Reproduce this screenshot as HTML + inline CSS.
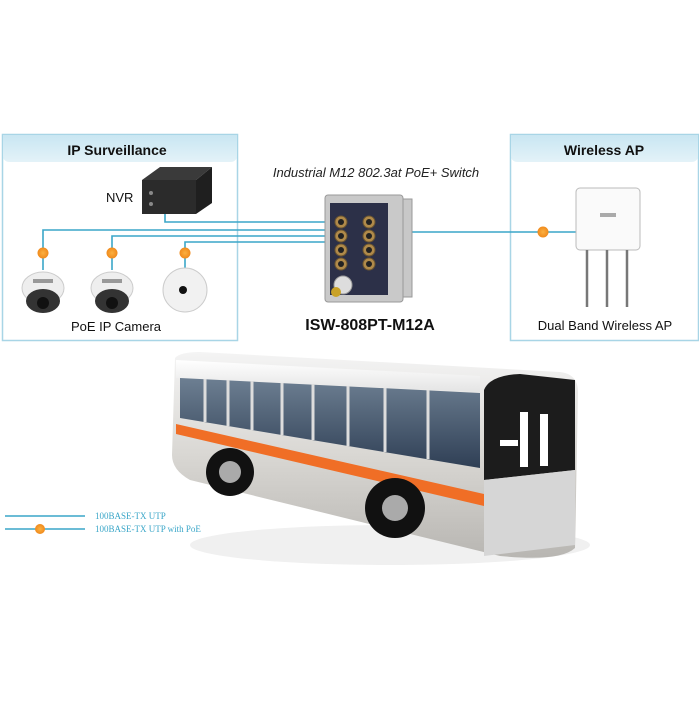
<!DOCTYPE html>
<html><head><meta charset="utf-8"><style>
body{margin:0;width:699px;height:699px;background:#fff;overflow:hidden;font-family:"Liberation Sans",sans-serif}
</style></head><body>
<svg width="699" height="699" viewBox="0 0 699 699" xmlns="http://www.w3.org/2000/svg" font-family="Liberation Sans, sans-serif">
<defs>
<linearGradient id="hdr" x1="0" y1="0" x2="0" y2="1"><stop offset="0" stop-color="#c9e6f2"/><stop offset="1" stop-color="#e3f2f8"/></linearGradient>
<linearGradient id="body" x1="0" y1="0" x2="0" y2="1"><stop offset="0" stop-color="#f4f4f4"/><stop offset="0.5" stop-color="#d9d7d3"/><stop offset="1" stop-color="#b8b6b2"/></linearGradient>
<linearGradient id="win" x1="0" y1="0" x2="0" y2="1"><stop offset="0" stop-color="#6d7f92"/><stop offset="1" stop-color="#2f3f55"/></linearGradient>
<linearGradient id="top" x1="0" y1="0" x2="0" y2="1"><stop offset="0" stop-color="#ffffff"/><stop offset="1" stop-color="#e4e4e4"/></linearGradient>
<radialGradient id="poe"><stop offset="0" stop-color="#fbb040"/><stop offset="1" stop-color="#f08a1c"/></radialGradient>
</defs>
<!-- boxes -->
<rect x="2.5" y="134.5" width="235" height="206" fill="#fff" stroke="#a8d5e6" stroke-width="1.5"/>
<path d="M3 135 H237 V155 Q237 162 230 162 H10 Q3 162 3 155 Z" fill="url(#hdr)"/>
<text x="117" y="155" font-size="14" font-weight="bold" text-anchor="middle" fill="#111">IP Surveillance</text>
<rect x="510.5" y="134.5" width="188" height="206" fill="#fff" stroke="#a8d5e6" stroke-width="1.5"/>
<path d="M511 135 H698 V155 Q698 162 691 162 H518 Q511 162 511 155 Z" fill="url(#hdr)"/>
<text x="604" y="155" font-size="14" font-weight="bold" text-anchor="middle" fill="#111">Wireless AP</text>
<text x="376" y="177" font-size="13" font-style="italic" text-anchor="middle" fill="#222">Industrial M12 802.3at PoE+ Switch</text>
<!-- NVR -->
<text x="106" y="202" font-size="13" fill="#111">NVR</text>
<path d="M142 180 L160 167 L212 167 L196 180 Z" fill="#3a3a3a"/>
<path d="M196 180 L212 167 L212 203 L196 214 Z" fill="#1f1f1f"/>
<rect x="142" y="180" width="54" height="34" fill="#2b2b2b"/>
<circle cx="151" cy="193" r="2" fill="#888"/><circle cx="151" cy="204" r="2" fill="#888"/>
<!-- lines -->
<g stroke="#3aa6c8" stroke-width="1.6" fill="none">
<path d="M165 214 V222 H326"/>
<path d="M43 270 V230 H326"/>
<path d="M112 270 V236 H326"/>
<path d="M185 270 V242 H326"/>
<path d="M412 232 H576"/>
<path d="M5 516 H85"/><path d="M5 529 H85"/>
</g>
<g fill="url(#poe)">
<circle cx="43" cy="253" r="5.5"/><circle cx="112" cy="253" r="5.5"/><circle cx="185" cy="253" r="5.5"/>
<circle cx="543" cy="232" r="5.5"/><circle cx="40" cy="529" r="5"/>
</g>
<!-- cameras -->
<g>
<ellipse cx="43" cy="288" rx="21" ry="16" fill="#eee" stroke="#ccc"/>
<ellipse cx="43" cy="301" rx="17" ry="12" fill="#333"/><circle cx="43" cy="303" r="6" fill="#111"/>
<rect x="33" y="279" width="20" height="4" fill="#999"/>
<ellipse cx="112" cy="288" rx="21" ry="16" fill="#eee" stroke="#ccc"/>
<ellipse cx="112" cy="301" rx="17" ry="12" fill="#333"/><circle cx="112" cy="303" r="6" fill="#111"/>
<rect x="102" y="279" width="20" height="4" fill="#999"/>
<circle cx="185" cy="290" r="22" fill="#f1f1f1" stroke="#ccc"/>
<circle cx="183" cy="290" r="4" fill="#111"/>
</g>
<text x="116" y="331" font-size="13" text-anchor="middle" fill="#111">PoE IP Camera</text>
<!-- switch -->
<rect x="402" y="199" width="10" height="98" fill="#c8c8c8" stroke="#999"/>
<rect x="325" y="195" width="78" height="107" rx="3" fill="#c9c9c9" stroke="#999"/>
<rect x="330" y="203" width="58" height="92" fill="#2c3048"/>
<g fill="#b08a4a" stroke="#6b5530">
<circle cx="341" cy="222" r="6"/><circle cx="369" cy="222" r="6"/>
<circle cx="341" cy="236" r="6"/><circle cx="369" cy="236" r="6"/>
<circle cx="341" cy="250" r="6"/><circle cx="369" cy="250" r="6"/>
<circle cx="341" cy="264" r="6"/><circle cx="369" cy="264" r="6"/>
</g>
<g fill="#222"><circle cx="341" cy="222" r="3"/><circle cx="369" cy="222" r="3"/><circle cx="341" cy="236" r="3"/><circle cx="369" cy="236" r="3"/><circle cx="341" cy="250" r="3"/><circle cx="369" cy="250" r="3"/><circle cx="341" cy="264" r="3"/><circle cx="369" cy="264" r="3"/></g>
<circle cx="343" cy="285" r="9" fill="#ddd" stroke="#999"/><circle cx="336" cy="292" r="5" fill="#c9a227"/>
<text x="370" y="330" font-size="16" font-weight="bold" text-anchor="middle" fill="#111">ISW-808PT-M12A</text>
<!-- AP -->
<rect x="576" y="188" width="64" height="62" rx="4" fill="#fafafa" stroke="#bbb"/>
<rect x="600" y="213" width="16" height="4" fill="#aaa"/>
<g stroke="#777" stroke-width="2.5"><path d="M587 250 V307"/><path d="M607 250 V307"/><path d="M627 250 V307"/></g>
<text x="605" y="330" font-size="13" text-anchor="middle" fill="#111">Dual Band Wireless AP</text>
<!-- bus -->
<ellipse cx="390" cy="545" rx="200" ry="20" fill="#f0f0f0"/>
<path d="M175 358 Q180 352 200 352 L560 372 Q578 374 578 392 L575 548 Q560 562 500 556 L190 480 Q172 470 172 455 Z" fill="url(#body)"/>
<path d="M176 360 L480 376 L480 392 L176 378 Z" fill="url(#top)"/>
<path d="M180 378 L480 393 L480 468 L180 418 Z" fill="url(#win)"/>
<g stroke="#ddd" stroke-width="3"><path d="M205 379 V422"/><path d="M228 380 V426"/><path d="M252 381 V430"/><path d="M282 383 V435"/><path d="M313 384 V440"/><path d="M348 386 V446"/><path d="M385 388 V452"/><path d="M428 390 V459"/></g>
<path d="M176 424 L484 494 L484 506 L176 434 Z" fill="#f06e26"/>
<path d="M484 390 Q490 375 520 374 L575 380 L575 470 L484 480 Z" fill="#1c1c1c"/>
<rect x="520" y="412" width="8" height="55" fill="#fff"/><rect x="540" y="414" width="8" height="52" fill="#fff"/><rect x="500" y="440" width="18" height="6" fill="#fff"/>
<path d="M484 480 L575 470 L575 545 L484 556 Z" fill="#d6d6d6"/>
<circle cx="230" cy="472" r="24" fill="#111"/><circle cx="230" cy="472" r="11" fill="#aaa"/>
<circle cx="395" cy="508" r="30" fill="#111"/><circle cx="395" cy="508" r="13" fill="#aaa"/>
<!-- legend -->
<text x="95" y="519" font-size="9" font-family="Liberation Serif, serif" fill="#3aa6c8">100BASE-TX UTP</text>
<text x="95" y="532" font-size="9" font-family="Liberation Serif, serif" fill="#3aa6c8">100BASE-TX UTP with PoE</text>
</svg>
</body></html>
